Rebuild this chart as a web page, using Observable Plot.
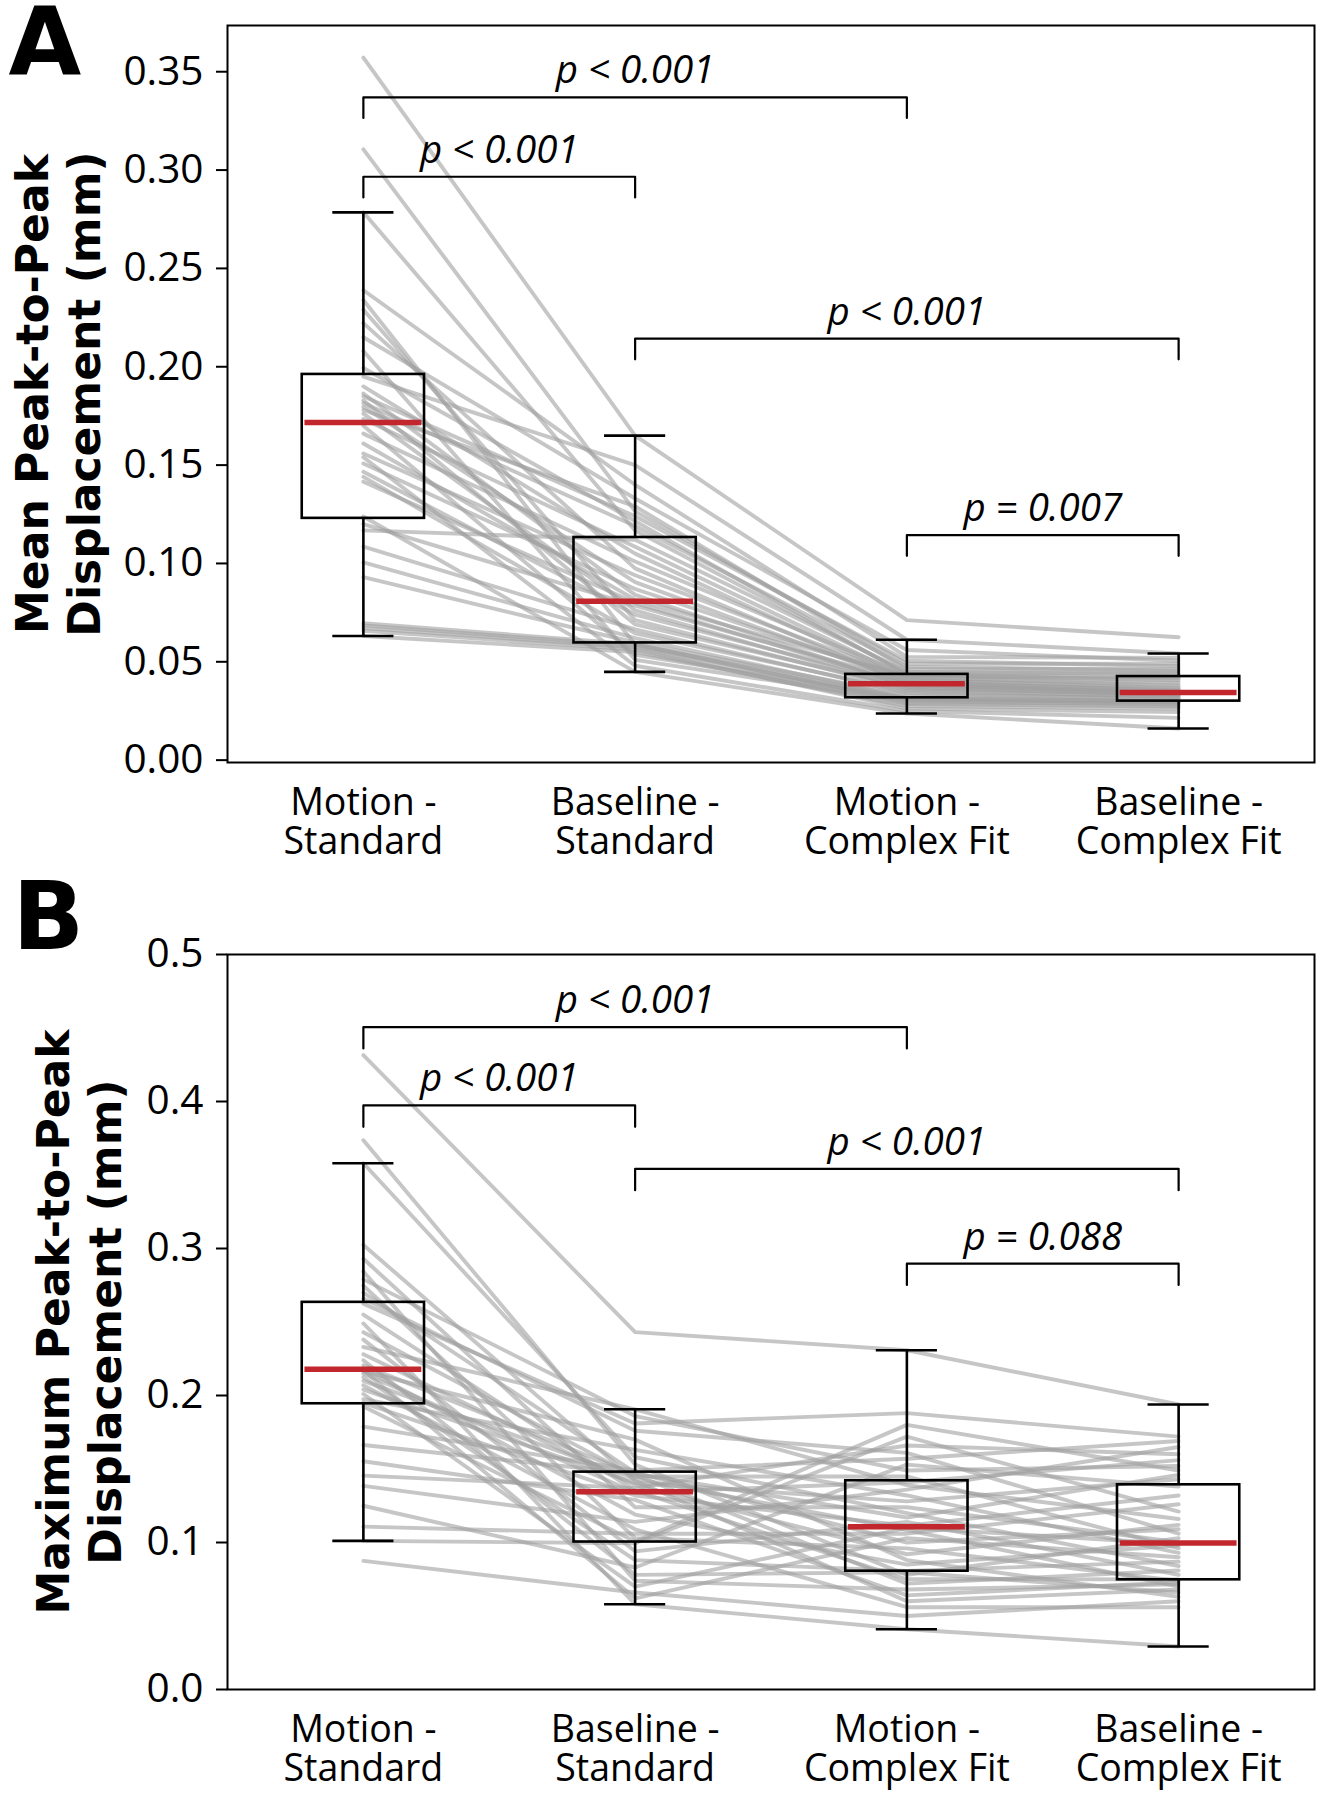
<!DOCTYPE html>
<html>
<head>
<meta charset="utf-8">
<script src="https://cdn.jsdelivr.net/npm/d3@7"></script>
<script src="https://cdn.jsdelivr.net/npm/@observablehq/plot@0.6"></script>
<style>
  html, body { margin: 0; padding: 0; background: #fff; }
  #figure { width: 1328px; }
  #figure svg { display: block; }
</style>
</head>
<body>
<div id="figure"></div>
<script>
// Conditions along the x axis
const conditions = ["Motion -\nStandard", "Baseline -\nStandard", "Motion -\nComplex Fit", "Baseline -\nComplex Fit"];

// Panel A: mean peak-to-peak displacement (mm), one value per subject
const meanMotionStandard = [0.3572, 0.3105, 0.2785, 0.2389, 0.2339, 0.2290, 0.2222, 0.2150, 0.2080, 0.1994,
  0.1950, 0.1900, 0.1864, 0.1850, 0.1830, 0.1815, 0.1796, 0.1780, 0.1762, 0.1734,
  0.1700, 0.1660, 0.1610, 0.1559, 0.1540, 0.1508, 0.1466, 0.1440, 0.1415, 0.1239,
  0.1200, 0.1168, 0.1085, 0.1005, 0.0930, 0.0696, 0.0685, 0.0672, 0.0658, 0.0631];
const meanBaselineStandard = [0.1650, 0.1265, 0.1168, 0.1400, 0.0588, 0.0712, 0.0975, 0.1330, 0.0510, 0.1215,
  0.1500, 0.1050, 0.0840, 0.1240, 0.0690, 0.1190, 0.0905, 0.1290, 0.0762, 0.1085,
  0.0535, 0.1010, 0.0816, 0.0940, 0.0480, 0.0870, 0.0740, 0.0645, 0.0800, 0.0449,
  0.0785, 0.1120, 0.0665, 0.0620, 0.0598, 0.0590, 0.0580, 0.0572, 0.0562, 0.0550];
const meanMotionComplex = [0.0712, 0.0490, 0.0442, 0.0525, 0.0311, 0.0358, 0.0390, 0.0560, 0.0300, 0.0434,
  0.0612, 0.0406, 0.0378, 0.0505, 0.0372, 0.0475, 0.0395, 0.0462, 0.0365, 0.0423,
  0.0314, 0.0432, 0.0428, 0.0418, 0.0250, 0.0412, 0.0386, 0.0350, 0.0383, 0.0237,
  0.0400, 0.0450, 0.0340, 0.0318, 0.0330, 0.0293, 0.0306, 0.0285, 0.0262, 0.0275];
const meanBaselineComplex = [0.0625, 0.0490, 0.0445, 0.0520, 0.0291, 0.0320, 0.0342, 0.0505, 0.0280, 0.0405,
  0.0542, 0.0370, 0.0340, 0.0478, 0.0330, 0.0455, 0.0356, 0.0465, 0.0334, 0.0380,
  0.0301, 0.0421, 0.0415, 0.0392, 0.0215, 0.0362, 0.0346, 0.0326, 0.0338, 0.0161,
  0.0350, 0.0437, 0.0308, 0.0297, 0.0315, 0.0286, 0.0295, 0.0272, 0.0245, 0.0262];

// Panel B: maximum peak-to-peak displacement (mm), one value per subject
const maxMotionStandard = [0.4316, 0.3736, 0.3580, 0.3024, 0.2930, 0.2844, 0.2790, 0.2747, 0.2700, 0.2660,
  0.2625, 0.2550, 0.2490, 0.2430, 0.2380, 0.2330, 0.2280, 0.2240, 0.2205, 0.2184,
  0.2172, 0.2165, 0.2150, 0.2125, 0.2100, 0.2070, 0.2040, 0.2010, 0.1975, 0.1950,
  0.1925, 0.1788, 0.1663, 0.1553, 0.1455, 0.1385, 0.1250, 0.1108, 0.1011, 0.0875];
const maxBaselineStandard = [0.2431, 0.1530, 0.1580, 0.1420, 0.1240, 0.0740, 0.1860, 0.1030, 0.1475, 0.1760,
  0.1810, 0.1352, 0.0580, 0.1448, 0.0940, 0.1906, 0.1390, 0.0780, 0.1460, 0.1190,
  0.0620, 0.1700, 0.1340, 0.0880, 0.1435, 0.1090, 0.1405, 0.0700, 0.1630, 0.1320,
  0.1006, 0.1490, 0.1468, 0.1290, 0.1370, 0.1140, 0.0830, 0.1060, 0.0995, 0.0660];
const maxMotionComplex = [0.2308, 0.0780, 0.1200, 0.0600, 0.1240, 0.0680, 0.1490, 0.0960, 0.1000, 0.1610,
  0.1880, 0.0750, 0.0410, 0.1450, 0.1140, 0.1390, 0.0920, 0.0798, 0.0720, 0.0850,
  0.1030, 0.0880, 0.1410, 0.0807, 0.1085, 0.0560, 0.1280, 0.1100, 0.1320, 0.1114,
  0.1800, 0.1570, 0.1170, 0.0640, 0.1660, 0.1360, 0.1530, 0.1060, 0.1720, 0.0500];
const maxBaselineComplex = [0.1939, 0.1030, 0.0840, 0.0680, 0.1002, 0.0715, 0.1520, 0.0738, 0.1090, 0.1060,
  0.1720, 0.0749, 0.0293, 0.0960, 0.0780, 0.1160, 0.1120, 0.0660, 0.0810, 0.0980,
  0.0900, 0.0630, 0.1560, 0.0870, 0.0700, 0.0560, 0.1430, 0.0990, 0.0930, 0.1320,
  0.1490, 0.1690, 0.1460, 0.0730, 0.1600, 0.1650, 0.1380, 0.1260, 0.1210, 0.0600];

// Y tick values
const meanTicks = [0, 0.05, 0.10, 0.15, 0.20, 0.25, 0.30, 0.35];
const maxTicks = [0, 0.1, 0.2, 0.3, 0.4, 0.5];

// Significance brackets: compared conditions (1-based), bar level, label
const meanBrackets = [
  {from: 1, to: 3, level: 0.337, label: "p < 0.001"},
  {from: 1, to: 2, level: 0.2966, label: "p < 0.001"},
  {from: 2, to: 4, level: 0.2143, label: "p < 0.001"},
  {from: 3, to: 4, level: 0.1144, label: "p = 0.007"}
];
const maxBrackets = [
  {from: 1, to: 3, level: 0.4506, label: "p < 0.001"},
  {from: 1, to: 2, level: 0.3973, label: "p < 0.001"},
  {from: 2, to: 4, level: 0.3542, label: "p < 0.001"},
  {from: 3, to: 4, level: 0.2897, label: "p = 0.088"}
];

const MARGIN_LEFT = 227;

function panel(o) {
  const {series, ticks, tickFormat, domain, brackets, leg, yLabel, letter,
         height, marginTop, marginBottom, labelCenter, letterLeft, letterTop} = o;

  // long format for the paired subject lines
  const long = series[0].flatMap((_, s) =>
    series.map((vals, c) => ({subject: s, pos: c + 1, value: vals[s]})));

  // Tukey box statistics (1.5 IQR whiskers)
  const stats = series.map((vals, c) => {
    const v = vals.slice().sort(d3.ascending);
    const q1 = d3.quantileSorted(v, 0.25);
    const med = d3.quantileSorted(v, 0.5);
    const q3 = d3.quantileSorted(v, 0.75);
    const iqr = q3 - q1;
    const hi = d3.max(v.filter(d => d <= q3 + 1.5 * iqr));
    const lo = d3.min(v.filter(d => d >= q1 - 1.5 * iqr));
    return {pos: c + 1, q1, med, q3, lo, hi};
  });

  const half = 0.225, cap = 0.1125;
  const black = {stroke: "#000", strokeWidth: 2.6};

  const bracketPath = brackets.flatMap((b, i) => [
    {id: i, x: b.from, y: b.level - leg},
    {id: i, x: b.from, y: b.level},
    {id: i, x: b.to, y: b.level},
    {id: i, x: b.to, y: b.level - leg}
  ]);

  return Plot.plot({
    width: 1328,
    height,
    marginTop,
    marginBottom,
    marginLeft: MARGIN_LEFT,
    marginRight: 14,
    style: {fontFamily: "'Open Sans', sans-serif", color: "#000", background: "#fff", overflow: "visible"},
    x: {domain: [0.5, 4.5]},
    y: {domain},
    marks: [
      Plot.line(long, {x: "pos", y: "value", z: "subject", stroke: "#a0a0a0", strokeOpacity: 0.6, strokeWidth: 3.9}),
      Plot.rect(stats, {x1: d => d.pos - half, x2: d => d.pos + half, y1: "q1", y2: "q3", fill: "none", ...black}),
      Plot.ruleX(stats, {x: "pos", y1: "q3", y2: "hi", ...black}),
      Plot.ruleX(stats, {x: "pos", y1: "lo", y2: "q1", ...black}),
      Plot.ruleY(stats, {y: "hi", x1: d => d.pos - cap, x2: d => d.pos + cap, ...black}),
      Plot.ruleY(stats, {y: "lo", x1: d => d.pos - cap, x2: d => d.pos + cap, ...black}),
      Plot.ruleY(stats, {y: "med", x1: d => d.pos - half + 0.01, x2: d => d.pos + half - 0.01, stroke: "#c1272d", strokeWidth: 5.5}),
      Plot.line(bracketPath, {x: "x", y: "y", z: "id", stroke: "#000", strokeWidth: 2.2, strokeLinejoin: "round"}),
      Plot.text(brackets, {x: d => (d.from + d.to) / 2, y: "level", text: "label", fontStyle: "italic",
        fontSize: 38.5, lineAnchor: "bottom", dy: -14}),
      Plot.frame({stroke: "#000", strokeWidth: 2}),
      Plot.axisY({ticks, tickFormat, tickSize: 11, tickPadding: 13, fontSize: 40.5, strokeWidth: 2, label: null}),
      Plot.axisX({ticks: [1, 2, 3, 4], tickFormat: d => conditions[d - 1], tickSize: 0, tickPadding: 25,
        fontSize: 37.5, lineHeight: 1.04, label: null}),
      Plot.text([yLabel], {text: d => d, frameAnchor: "left", textAnchor: "middle", lineAnchor: "middle",
        rotate: -90, dx: labelCenter - MARGIN_LEFT,
        fontWeight: "bold", fontSize: 44, lineHeight: 1.18, fontFamily: "'DejaVu Sans', sans-serif"}),
      Plot.text([letter], {text: d => d, frameAnchor: "top-left", textAnchor: "start", lineAnchor: "top",
        dx: letterLeft - MARGIN_LEFT, dy: letterTop - marginTop,
        fontWeight: "bold", fontSize: 94, fontFamily: "'DejaVu Sans', sans-serif"})
    ]
  });
}

const fig = document.getElementById("figure");

fig.append(panel({
  series: [meanMotionStandard, meanBaselineStandard, meanMotionComplex, meanBaselineComplex],
  ticks: meanTicks,
  tickFormat: d3.format(".2f"),
  domain: [-0.0012, 0.3735],
  brackets: meanBrackets,
  leg: 0.0105,
  yLabel: "Mean Peak-to-Peak\nDisplacement (mm)",
  letter: "A",
  height: 870,
  marginTop: 25,
  marginBottom: 108,
  labelCenter: 57,
  letterLeft: 8,
  letterTop: 8
}));

fig.append(panel({
  series: [maxMotionStandard, maxBaselineStandard, maxMotionComplex, maxBaselineComplex],
  ticks: maxTicks,
  tickFormat: d3.format(".1f"),
  domain: [0, 0.5],
  brackets: maxBrackets,
  leg: 0.0145,
  yLabel: "Maximum Peak-to-Peak\nDisplacement (mm)",
  letter: "B",
  height: 930,
  marginTop: 84,
  marginBottom: 111,
  labelCenter: 78,
  letterLeft: 12,
  letterTop: 12
}));
</script>
</body>
</html>
